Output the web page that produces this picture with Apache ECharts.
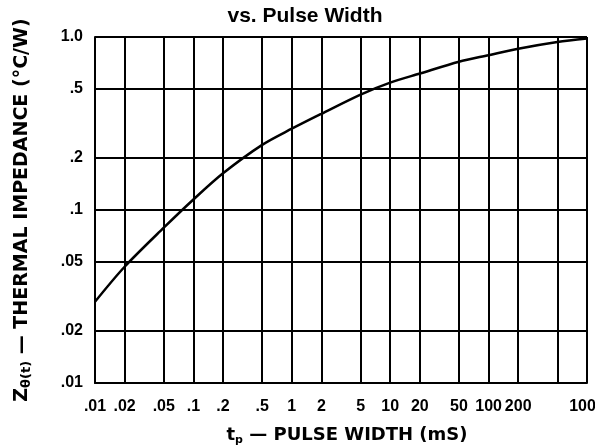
<!DOCTYPE html>
<html>
<head>
<meta charset="utf-8">
<script src="https://cdn.jsdelivr.net/npm/echarts@6/dist/echarts.min.js"></script>
<style>
  html, body { margin: 0; padding: 0; background: #fff; }
  #chart { width: 595px; height: 448px; }
</style>
</head>
<body>
<div id="chart"></div>
<script>
// pulse width (mS) vs thermal impedance (°C/W)
const pulseWidth = [0.01, 0.02, 0.05, 0.1, 0.2, 0.5, 1, 2, 5, 10, 20, 50, 100, 200, 500, 1000]
const impedance = [0.0295, 0.047, 0.079, 0.115, 0.163, 0.238, 0.295, 0.36, 0.465, 0.545, 0.615, 0.72, 0.785, 0.855, 0.935, 0.98]

// grid lines and tick labels
const xGridValues = [0.01, 0.02, 0.05, 0.1, 0.2, 0.5, 1, 2, 5, 10, 20, 50, 100, 200, 500, 1000]
const xLabelValues = [0.01, 0.02, 0.05, 0.1, 0.2, 0.5, 1, 2, 5, 10, 20, 50, 100, 200, 1000]
const xLabelText = ['.01', '.02', '.05', '.1', '.2', '.5', '1', '2', '5', '10', '20', '50', '100', '200', '1000']
const yGridValues = [0.01, 0.02, 0.05, 0.1, 0.2, 0.5, 1]
const yLabelText = ['.01', '.02', '.05', '.1', '.2', '.5', '1.0']

const font = "'Liberation Sans', Arial, sans-serif"
const wideFont = "'DejaVu Sans', sans-serif"

// log values come back with float noise, so match on the nearest one
const pickLabel = (values, texts) => (v) => {
  let best = 0
  values.forEach((t, i) => {
    if (Math.abs(Math.log10(t) - Math.log10(v)) < Math.abs(Math.log10(values[best]) - Math.log10(v))) best = i
  })
  return texts[best]
}

const chart = echarts.init(document.getElementById('chart'), null, { renderer: 'canvas' })

const option = {
  backgroundColor: '#fff',
  animation: false,
  title: {
    text: 'vs. Pulse Width',
    left: 300,
    textAlign: 'center',
    top: 1,
    textStyle: { color: '#000', fontSize: 21, fontWeight: 'bold', fontFamily: font },
  },
  grid: {
    left: 95,
    right: 8,
    top: 37,
    bottom: 65,
    outerBoundsMode: 'none',
  },
  xAxis: {
    type: 'log',
    logBase: 10,
    min: 0.01,
    max: 1000,
    name: '{t|t}{sub|p}{n| — PULSE WIDTH (mS)}',
    nameLocation: 'middle',
    nameGap: 42,
    nameTextStyle: {
      padding: [0, 0, 0, 12],
      rich: {
        t: { fontSize: 18, fontWeight: 'bold', color: '#000', fontFamily: wideFont },
        sub: { fontSize: 11, fontWeight: 'bold', color: '#000', fontFamily: wideFont, padding: [10, 0, 0, 0] },
        n: { fontSize: 18, fontWeight: 'bold', color: '#000', fontFamily: wideFont },
      },
    },
    axisLine: { show: true, lineStyle: { color: '#000', width: 2 } },
    axisTick: { show: false, customValues: xGridValues },
    axisLabel: {
      customValues: xLabelValues,
      formatter: pickLabel(xLabelValues, xLabelText),
      color: '#000',
      fontSize: 16,
      fontWeight: 'bold',
      fontFamily: font,
      margin: 16,
    },
    splitLine: { show: true, lineStyle: { color: '#000', width: 2 } },
  },
  yAxis: {
    type: 'log',
    logBase: 10,
    min: 0.01,
    max: 1,
    name: '{z|Z}{sub|θ(t)}{n| — THERMAL IMPEDANCE (°C/W)}',
    nameLocation: 'middle',
    nameRotate: 90,
    nameGap: 62,
    nameTextStyle: {
      rich: {
        z: { fontSize: 19, fontWeight: 'bold', color: '#000', fontFamily: wideFont },
        sub: { fontSize: 13, fontWeight: 'bold', color: '#000', fontFamily: wideFont, padding: [9, 0, 0, 0] },
        n: { fontSize: 19, fontWeight: 'bold', color: '#000', fontFamily: wideFont },
      },
    },
    axisLine: { show: true, lineStyle: { color: '#000', width: 2 } },
    axisTick: { show: false, customValues: yGridValues },
    axisLabel: {
      customValues: yGridValues,
      formatter: pickLabel(yGridValues, yLabelText),
      color: '#000',
      fontSize: 16,
      fontWeight: 'bold',
      fontFamily: font,
      margin: 12,
    },
    splitLine: { show: true, lineStyle: { color: '#000', width: 2 } },
  },
  series: [
    {
      type: 'line',
      data: pulseWidth.map((x, i) => [x, impedance[i]]),
      smooth: 0.3,
      showSymbol: false,
      lineStyle: { color: '#000', width: 2.5 },
    },
  ],
}

chart.setOption(option)
</script>
</body>
</html>
